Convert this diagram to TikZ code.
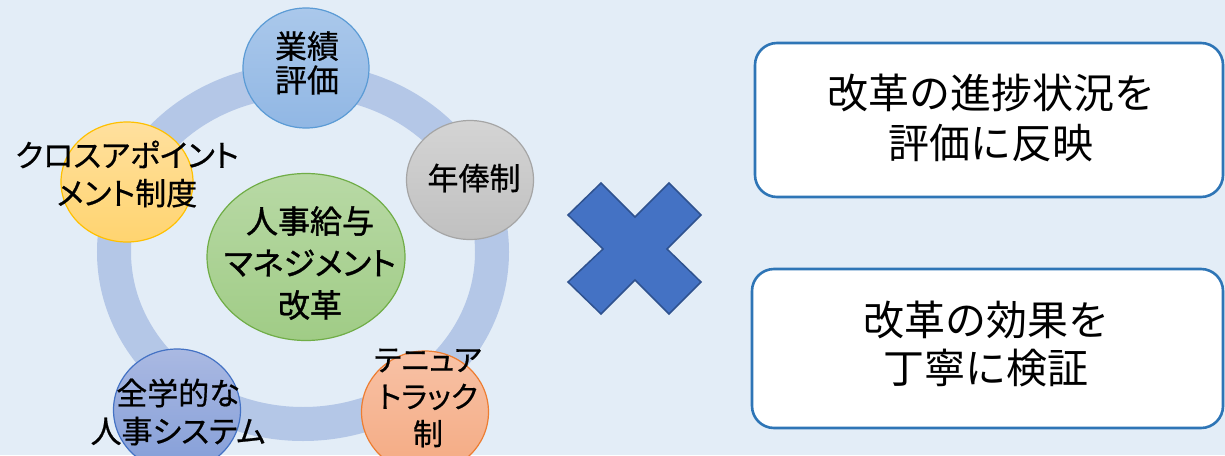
\documentclass[tikz,border=0pt]{standalone}
\usepackage{fontspec}
\setmainfont{Noto Sans CJK JP}[RawFeature=+palt]
\newfontfamily\circfont{Noto Sans CJK JP}[RawFeature=+palt, FakeBold=0.6]
\newfontfamily\corefont{Noto Sans CJK JP}[RawFeature=+palt, FakeBold=1.2]
\newfontfamily\boxfont{Noto Sans CJK JP}
\usetikzlibrary{shapes.geometric,shadings}
\definecolor{bgcol}{RGB}{227,237,247}
\definecolor{ringcol}{RGB}{180,199,231}
\definecolor{boxline}{RGB}{46,117,182}
\definecolor{xfill}{RGB}{68,114,196}
\definecolor{xline}{RGB}{47,82,143}
\definecolor{bluetop}{RGB}{170,200,235}\definecolor{bluebot}{RGB}{145,183,228}\definecolor{blueline}{RGB}{91,155,213}
\definecolor{graytop}{RGB}{212,212,212}\definecolor{graybot}{RGB}{192,192,192}\definecolor{grayline}{RGB}{165,165,165}
\definecolor{yeltop}{RGB}{255,224,158}\definecolor{yelbot}{RGB}{255,212,112}\definecolor{yelline}{RGB}{255,192,0}
\definecolor{indtop}{RGB}{170,185,226}\definecolor{indbot}{RGB}{132,158,216}\definecolor{indline}{RGB}{68,114,196}
\definecolor{ortop}{RGB}{248,194,166}\definecolor{orbot}{RGB}{244,170,130}\definecolor{orline}{RGB}{237,125,49}
\definecolor{grtop}{RGB}{184,217,165}\definecolor{grbot}{RGB}{160,204,134}\definecolor{grline}{RGB}{112,173,71}
\tikzset{
  bubble/.style={ellipse, inner sep=0pt, line width=1.2pt},
  lbl/.style={align=center, inner sep=0pt, font=\circfont\fontsize{31}{36}\selectfont},
  rbox/.style={draw=boxline, line width=2.6pt, fill=white, rounded corners=22pt, inner sep=0pt},
  btext/.style={align=center, inner sep=0pt, font=\boxfont\fontsize{41}{50}\selectfont},
}
\begin{document}
\begin{tikzpicture}[x=1pt,y=-1pt]
\fill[bgcol] (0,0) rectangle (1225,455);
\useasboundingbox (0,0) rectangle (1225,455);
\begin{scope}
\clip (0,0) rectangle (1225,455);
% ring
\draw[ringcol, line width=34pt] (303,252) ellipse [x radius=189pt, y radius=172pt];
% bubbles
\node[bubble, draw=blueline, top color=bluetop, bottom color=bluebot, minimum width=126pt, minimum height=120pt] (perf) at (306,68) {};
\node[bubble, draw=grayline, top color=graytop, bottom color=graybot, minimum width=127pt, minimum height=119pt] (nenpo) at (470,180) {};
\node[bubble, draw=yelline, top color=yeltop, bottom color=yelbot, minimum width=132pt, minimum height=120pt] (cross) at (127,182) {};
\node[bubble, draw=indline, top color=indtop, bottom color=indbot, minimum width=127pt, minimum height=122pt] (zengaku) at (177,410) {};
\node[bubble, draw=orline, top color=ortop, bottom color=orbot, minimum width=127pt, minimum height=122pt] (tenure) at (425,412) {};
\node[bubble, draw=grline, top color=grtop, bottom color=grbot, minimum width=198pt, minimum height=167pt] (core) at (306,257) {};
% labels
\node[lbl, font=\circfont\fontsize{32}{34}\selectfont] (perfT) at (307,63) {業績\\評価};
\node[lbl] (nenpoT) at (474,178) {年俸制};
\node[lbl, font=\circfont\fontsize{31}{38}\selectfont] (crossT) at (127,174) {クロスアポイント\\メント制度};
\node[lbl, font=\circfont\fontsize{31}{38}\selectfont] (zengakuT) at (178,412) {全学的な\\人事システム};
\node[lbl, font=\circfont\fontsize{30}{37}\selectfont] (tenureT) at (428,398) {テニュア\\トラック\\制};
\node[lbl, font=\corefont\fontsize{32}{42}\selectfont] (coreT) at (310,263) {人事給与\\マネジメント\\改革};
% cross mark
\draw[xline, fill=xfill, line width=1.5pt, line join=miter]
  (601,183) -- (635,217) -- (669,183) -- (701,215) -- (667,249) -- (701,282)
  -- (669,314) -- (635,280) -- (601,314) -- (568,282) -- (603,249) -- (568,215) -- cycle;
% boxes
\node[rbox, minimum width=468pt, minimum height=154pt] (box1) at (989,120) {};
\node[rbox, minimum width=471pt, minimum height=159pt] (box2) at (987.5,348.5) {};
\node[btext] (box1T) at (991,118) {改革の進捗状況を\\評価に反映};
\node[btext, font=\boxfont\fontsize{41}{48}\selectfont] (box2T) at (986,344) {改革の効果を\\丁寧に検証};
\end{scope}
\end{tikzpicture}
\end{document}
